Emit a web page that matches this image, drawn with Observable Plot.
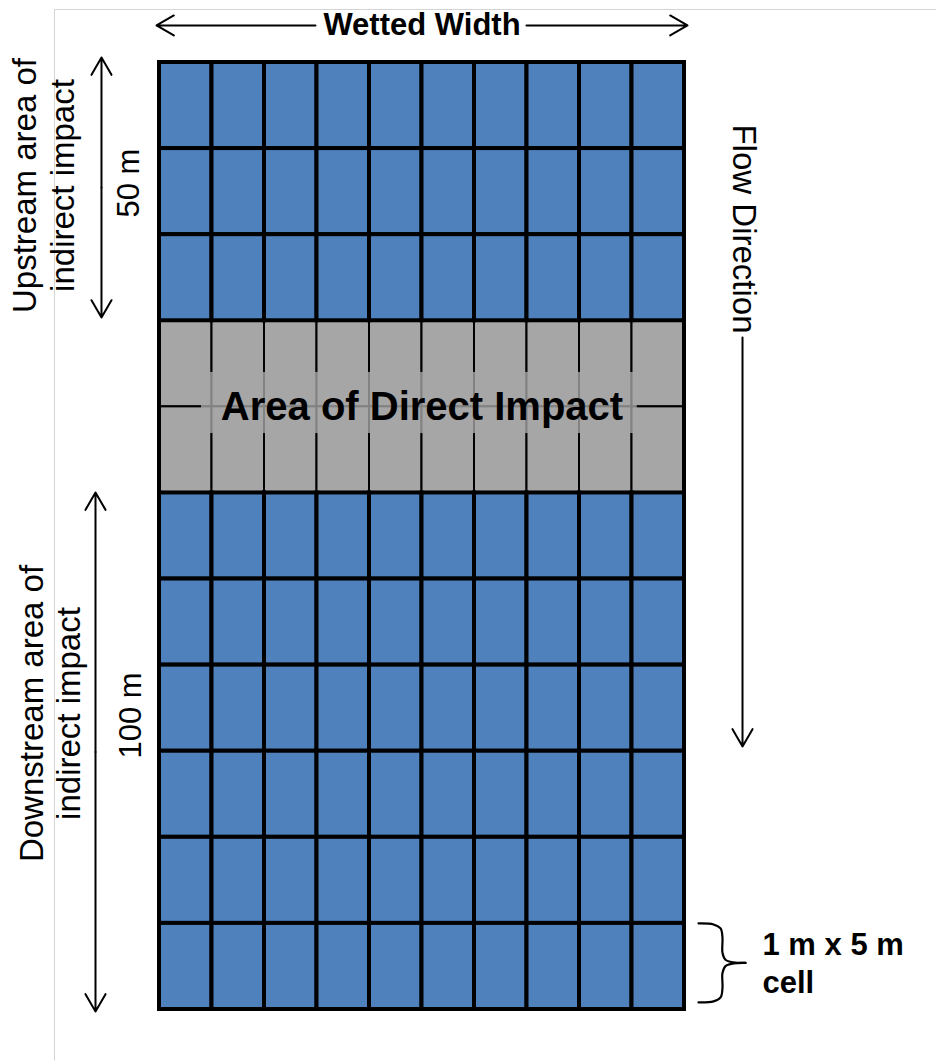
<!DOCTYPE html>
<html>
<head>
<meta charset="utf-8">
<script src="https://cdn.jsdelivr.net/npm/d3@7"></script>
<script src="https://cdn.jsdelivr.net/npm/@observablehq/plot@0.6"></script>
<style>
  html, body { margin: 0; padding: 0; background: #fff; }
  #chart svg { display: block; }
</style>
</head>
<body>
<div id="chart"></div>
<script>
// ---- data ----
const columns = [1, 2, 3, 4, 5, 6, 7, 8, 9, 10];                 // 1 m wide cells across the wetted width
const rowZones = ["upstream", "upstream", "upstream",
                  "direct", "direct",
                  "downstream", "downstream", "downstream", "downstream", "downstream", "downstream"];
const zoneColors = { upstream: "#4F81BD", direct: "#A6A6A6", downstream: "#4F81BD" };
const widthLabel = "Wetted Width";
const directLabel = "Area of Direct Impact";
const upstreamLabel = "Upstream area of\nindirect impact";
const downstreamLabel = "Downstream area of\nindirect impact";
const upstreamLength = "50 m";
const downstreamLength = "100 m";
const flowLabel = "Flow Direction";
const cellLabel = "1 m x 5 m\ncell";

// ---- derived table ----
const cells = [];
rowZones.forEach((zone, r) => columns.forEach((c, i) => cells.push({ col: i, row: r, zone })));
const nCols = columns.length, nRows = rowZones.length;
const firstDirect = rowZones.indexOf("direct");
const lastDirect = rowZones.lastIndexOf("direct") + 1;
const directMid = (firstDirect + lastDirect) / 2;

const font = "Liberation Sans, Arial, Helvetica, sans-serif";

// curly brace (fractions of its width / half height) annotating the last row
const braceShape = [[0, 0], [0.32, 0.026], [0.47, 0.128], [0.51, 0.36], [0.51, 0.744], [0.574, 0.92], [0.745, 0.987], [1, 1]];
const braceX0 = nCols + 0.267, braceW = 0.895;
const braceY0 = nRows - 1, braceH = 0.918;
const brace = [];
braceShape.forEach(([fx, fy]) => brace.push({ x: braceX0 + fx * braceW, y: braceY0 + fy * braceH / 2, part: "top" }));
braceShape.forEach(([fx, fy]) => brace.push({ x: braceX0 + fx * braceW, y: braceY0 + braceH - fy * braceH / 2, part: "bottom" }));

const arrowStyle = { stroke: "#000", strokeWidth: 2, headLength: 15, headAngle: 60 };
function doubleArrow(x, yA, yB) {
  const m = (yA + yB) / 2;
  return Plot.arrow([{ y1: m, y2: yA }, { y1: m, y2: yB }], { x1: x, x2: x, y1: "y1", y2: "y2", ...arrowStyle });
}

const chart = Plot.plot({
  width: 936,
  height: 1061,
  margin: 0,
  x: { type: "linear", domain: [0, nCols], range: [159, 684], axis: null },
  y: { type: "linear", domain: [0, nRows], range: [62, 1009], axis: null },
  style: { fontFamily: font, background: "#fff", color: "#000" },
  marks: [
    // faint page frame
    Plot.ruleY([-0.6156], { x1: -2, x2: 14.8, stroke: "#d4d4d4", strokeWidth: 1 }),
    Plot.ruleX([-2], { y1: -0.6156, y2: 11.6, stroke: "#d4d4d4", strokeWidth: 1 }),

    // grid cells
    Plot.rect(cells.filter(d => d.zone === "direct"), {
      x1: d => d.col, x2: d => d.col + 1, y1: d => d.row, y2: d => d.row + 1,
      fill: d => zoneColors[d.zone], stroke: "#000", strokeWidth: 2
    }),
    Plot.rect(cells.filter(d => d.zone !== "direct"), {
      x1: d => d.col, x2: d => d.col + 1, y1: d => d.row, y2: d => d.row + 1,
      fill: d => zoneColors[d.zone], stroke: "#000", strokeWidth: 4
    }),
    Plot.rect([{}], { x1: 0, x2: nCols, y1: 0, y2: nRows, fill: "none", stroke: "#000", strokeWidth: 4 }),

    // label box in the direct impact zone
    Plot.rect([{}], { x1: 0.8, x2: 9.1, y1: directMid - 0.4, y2: directMid + 0.31, fill: zoneColors.direct, fillOpacity: 0.78 }),
    Plot.text([directLabel], { x: nCols / 2, y: directMid, text: d => d, fontSize: 40, fontWeight: "bold", lineAnchor: "middle", fontFamily: font }),

    // wetted width
    Plot.arrow([{ x1: 2.971, x2: -0.057 }, { x1: 6.99, x2: nCols + 0.057 }], { x1: "x1", x2: "x2", y1: -0.43, y2: -0.43, ...arrowStyle }),
    Plot.text([widthLabel], { x: nCols / 2, y: -0.43, text: d => d, fontSize: 31, fontWeight: "bold", lineAnchor: "middle", fill: "#000", fontFamily: font }),

    // upstream
    doubleArrow(-1.105, -0.058, firstDirect - 0.038),
    Plot.text([upstreamLabel], { x: -1.638, y: 1.429, text: d => d, rotate: -90, fontSize: 33, lineHeight: 1.15, lineAnchor: "bottom", fontFamily: font }),
    Plot.text([upstreamLength], { x: -0.4, y: 1.4, text: d => d, rotate: -90, fontSize: 31, lineAnchor: "bottom", fontFamily: font }),

    // downstream
    doubleArrow(-1.219, lastDirect - 0.005, nRows + 0.023),
    Plot.text([downstreamLabel], { x: -1.505, y: 7.562, text: d => d, rotate: -90, fontSize: 33, lineHeight: 1.15, lineAnchor: "bottom", fontFamily: font }),
    Plot.text([downstreamLength], { x: -0.343, y: 7.585, text: d => d, rotate: -90, fontSize: 31, lineAnchor: "bottom", fontFamily: font }),

    // flow direction
    Plot.text([flowLabel], { x: 10.933, y: 3.148, text: d => d, rotate: 90, fontSize: 33, textAnchor: "end", lineAnchor: "bottom", fontFamily: font }),
    Plot.arrow([{}], { x1: 11.105, x2: 11.105, y1: 3.194, y2: 7.945, ...arrowStyle }),

    // cell size brace
    Plot.line(brace, { x: "x", y: "y", z: "part", curve: "catmull-rom", stroke: "#000", strokeWidth: 2.2 }),
    Plot.text([cellLabel], { x: 11.486, y: 10.814, text: d => d, fontSize: 31, fontWeight: "bold", textAnchor: "start",
      lineAnchor: "bottom", lineHeight: 1.226, fontFamily: font })
  ]
});

document.getElementById("chart").appendChild(chart);
</script>
</body>
</html>
